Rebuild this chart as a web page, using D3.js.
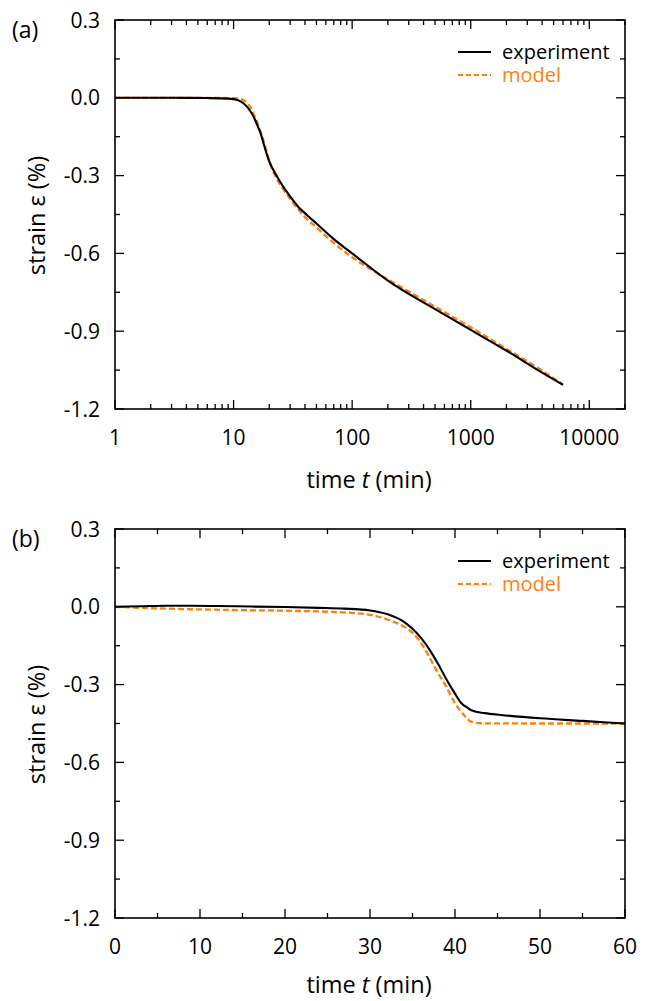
<!DOCTYPE html>
<html>
<head>
<meta charset="utf-8">
<script src="https://cdn.jsdelivr.net/npm/d3@7"></script>
<style>
  body { margin: 0; background: #fff; }
  svg text { font-family: "Open Sans", sans-serif; fill: #000; }
</style>
</head>
<body>
<div id="chart"></div>
<script>
// panel (a): log time axis
const tA = [1, 3, 6, 9, 10, 11, 12, 13, 14, 15, 16, 17, 18, 20, 23, 26, 30, 35, 40, 50, 70, 100, 200, 500, 1000, 2000, 4000, 6000];
const expA = [0, 0, -0.001, -0.003, -0.005, -0.01, -0.02, -0.035, -0.055, -0.08, -0.11, -0.14, -0.18, -0.245, -0.30, -0.34, -0.38, -0.42, -0.445, -0.485, -0.545, -0.60, -0.705, -0.815, -0.895, -0.975, -1.06, -1.107];
const tAm = [1, 10, 11, 12, 13, 14, 15, 16, 17, 18, 20, 23, 26, 30, 35, 40, 50, 70, 100, 200, 500, 1000, 2000, 4000, 6000];
const modA = [0, -0.001, -0.003, -0.008, -0.02, -0.04, -0.07, -0.10, -0.135, -0.17, -0.245, -0.31, -0.35, -0.39, -0.43, -0.46, -0.50, -0.56, -0.615, -0.70, -0.805, -0.885, -0.968, -1.052, -1.105];

// panel (b): linear time axis
const tB = [0, 3, 6, 9, 12, 16, 20, 24, 27, 30, 32, 34, 35, 36, 37, 38, 39, 40, 40.7, 41.5, 42, 43.5, 45.4, 50, 55, 60];
const expB = [0, 0.002, 0.004, 0.004, 0.003, 0.001, -0.001, -0.004, -0.007, -0.014, -0.028, -0.058, -0.085, -0.12, -0.165, -0.22, -0.28, -0.335, -0.37, -0.39, -0.40, -0.41, -0.417, -0.43, -0.44, -0.45];
const tBm = [0, 5, 10, 15, 20, 25, 28, 30, 32, 34, 35, 36.4, 37, 38, 39, 39.9, 41, 41.9, 43, 50, 60];
const modB = [0, -0.006, -0.01, -0.013, -0.015, -0.019, -0.024, -0.031, -0.048, -0.077, -0.10, -0.16, -0.195, -0.255, -0.31, -0.366, -0.415, -0.443, -0.449, -0.45, -0.45];

const yTicks = [0.3, 0.0, -0.3, -0.6, -0.9, -1.2];
const yMinor = [0.15, -0.15, -0.45, -0.75, -1.05];
const xTicksA = [1, 10, 100, 1000, 10000];
const xTicksB = [0, 10, 20, 30, 40, 50, 60];
const xMinorB = [5, 15, 25, 35, 45, 55];
const legendLabels = ['experiment', 'model'];

const W = 649, H = 1001;
const orange = '#ff7f0e';
const majorLen = 9, minorLen = 5;

const svg = d3.select('#chart').append('svg').attr('width', W).attr('height', H);

function drawPanel(opts) {
  const left = 115, right = 625, top = opts.top, bottom = opts.top + 389;
  const x = opts.x.range([left, right]);
  const y = d3.scaleLinear().domain([-1.2, 0.3]).range([bottom, top]);
  const g = svg.append('g');

  // ticks, inward on all sides
  const tk = g.append('g').attr('stroke', '#000').attr('stroke-width', 1.3);
  opts.xMajor.forEach(v => {
    tk.append('line').attr('x1', x(v)).attr('x2', x(v)).attr('y1', bottom).attr('y2', bottom - majorLen);
    tk.append('line').attr('x1', x(v)).attr('x2', x(v)).attr('y1', top).attr('y2', top + majorLen);
  });
  opts.xMinor.forEach(v => {
    tk.append('line').attr('x1', x(v)).attr('x2', x(v)).attr('y1', bottom).attr('y2', bottom - minorLen);
    tk.append('line').attr('x1', x(v)).attr('x2', x(v)).attr('y1', top).attr('y2', top + minorLen);
  });
  yTicks.forEach(v => {
    tk.append('line').attr('x1', left).attr('x2', left + majorLen).attr('y1', y(v)).attr('y2', y(v));
    tk.append('line').attr('x1', right).attr('x2', right - majorLen).attr('y1', y(v)).attr('y2', y(v));
  });
  yMinor.forEach(v => {
    tk.append('line').attr('x1', left).attr('x2', left + minorLen).attr('y1', y(v)).attr('y2', y(v));
    tk.append('line').attr('x1', right).attr('x2', right - minorLen).attr('y1', y(v)).attr('y2', y(v));
  });

  // lines
  const line = (xs, ys) => d3.line()
    .x((d, i) => x(xs[i])).y(d => y(d))
    .curve(d3.curveMonotoneX)(ys);
  g.append('path').attr('d', line(opts.tm, opts.mod))
    .attr('fill', 'none').attr('stroke', orange).attr('stroke-width', 2.3)
    .attr('stroke-dasharray', '6,3');
  g.append('path').attr('d', line(opts.te, opts.exp))
    .attr('fill', 'none').attr('stroke', '#000').attr('stroke-width', 2.1);

  // frame
  g.append('rect').attr('x', left).attr('y', top).attr('width', right - left).attr('height', bottom - top)
    .attr('fill', 'none').attr('stroke', '#000').attr('stroke-width', 1.6);

  // tick labels
  yTicks.forEach(v => {
    g.append('text').attr('x', 100).attr('y', y(v) + 7.5).attr('text-anchor', 'end')
      .style('font-size', '21px').text(v === 0 ? '0.0' : v.toFixed(1));
  });
  opts.xMajor.forEach(v => {
    g.append('text').attr('x', x(v)).attr('y', bottom + 36).attr('text-anchor', 'middle')
      .style('font-size', '21px').text(v);
  });

  // axis titles
  const xt = g.append('text').attr('x', (left + right) / 2 - 1).attr('y', bottom + opts.titleDy)
    .attr('text-anchor', 'middle').style('font-size', '23.5px');
  xt.append('tspan').text('time ');
  xt.append('tspan').style('font-style', 'italic').text('t');
  xt.append('tspan').text(' (min)');

  g.append('text').attr('transform', `translate(45,${(top + bottom) / 2 + 1}) rotate(-90)`)
    .attr('text-anchor', 'middle').style('font-size', '23.5px').text('strain ε (%)');

  g.append('text').attr('x', 12).attr('y', top + 18).style('font-size', '23px').text(opts.tag);

  // legend
  const lg = g.append('g').attr('transform', `translate(458,${top + 32})`);
  lg.append('line').attr('x1', 0).attr('x2', 33).attr('y1', 0).attr('y2', 0)
    .attr('stroke', '#000').attr('stroke-width', 2);
  lg.append('text').attr('x', 44).attr('y', 7).style('font-size', '20px').text(legendLabels[0]);
  lg.append('line').attr('x1', 0).attr('x2', 33).attr('y1', 23).attr('y2', 23)
    .attr('stroke', orange).attr('stroke-width', 2).attr('stroke-dasharray', '5,3');
  lg.append('text').attr('x', 44).attr('y', 30).style('font-size', '20px')
    .style('fill', orange).text(legendLabels[1]);
}

// log minor ticks 2..9 per decade
const minorA = [];
[1, 10, 100, 1000, 10000].forEach(d => {
  for (let k = 2; k <= 9; k++) if (d * k <= 20000) minorA.push(d * k);
});

drawPanel({
  top: 20, tag: '(a)', titleDy: 79,
  x: d3.scaleLog().domain([1, 20000]),
  xMajor: xTicksA, xMinor: minorA,
  te: tA, exp: expA, tm: tAm, mod: modA
});

drawPanel({
  top: 529, tag: '(b)', titleDy: 75,
  x: d3.scaleLinear().domain([0, 60]),
  xMajor: xTicksB, xMinor: xMinorB,
  te: tB, exp: expB, tm: tBm, mod: modB
});
</script>
</body>
</html>
